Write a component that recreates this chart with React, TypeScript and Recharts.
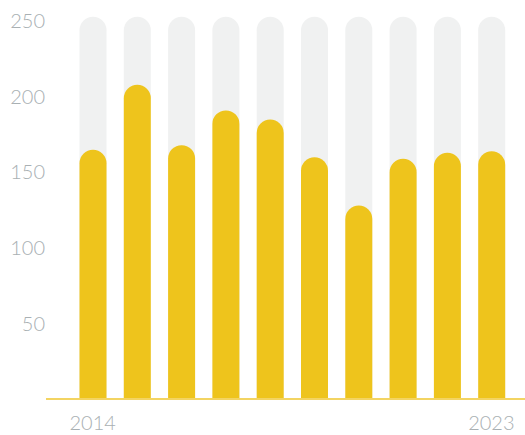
import React from "react";
import { BarChart, Bar, XAxis, YAxis } from "recharts";

const years = ["2014", "2015", "2016", "2017", "2018", "2019", "2020", "2021", "2022", "2023"];
const values = [165, 208, 168, 191, 185, 160, 128, 159, 163, 164];
const yTicks = [50, 100, 150, 200, 250];
const shownYears = ["2014", "2023"];

const data = years.map((y, i) => ({ year: y, value: values[i] }));

const textStyle = { fill: "#a9b0b3", fontSize: 20, fontWeight: 300, fontFamily: "Lato, 'Open Sans', sans-serif" };

export default function App() {
  return (
    <div style={{ position: "absolute", left: 0, top: 0, width: 525, height: 435 }}>
      <BarChart
        width={525}
        height={435}
        data={data}
        margin={{ top: 16.7, right: 0, bottom: 0, left: 0 }}
        barCategoryGap={17.3}
      >
        <XAxis
          dataKey="year"
          height={36}
          padding={{ left: 24.5, right: 11.5 }}
          axisLine={{ stroke: "#f3d462", strokeWidth: 2 }}
          tickLine={false}
          tickSize={0}
          tickMargin={16.5}
          interval={0}
          tick={textStyle}
          tickFormatter={(v: string) => (shownYears.includes(v) ? v : "")}
        />
        <YAxis
          width={46}
          domain={[0, 253]}
          ticks={yTicks}
          axisLine={false}
          tickLine={false}
          tickSize={0}
          tickMargin={1}
          tick={textStyle}
        />
        <Bar
          dataKey="value"
          fill="#eec41c"
          barSize={27}
          radius={[13.5, 13.5, 0, 0]}
          background={{ fill: "#f0f1f1", radius: [13.5, 13.5, 0, 0] } as any}
          isAnimationActive={false}
        />
      </BarChart>
    </div>
  );
}
